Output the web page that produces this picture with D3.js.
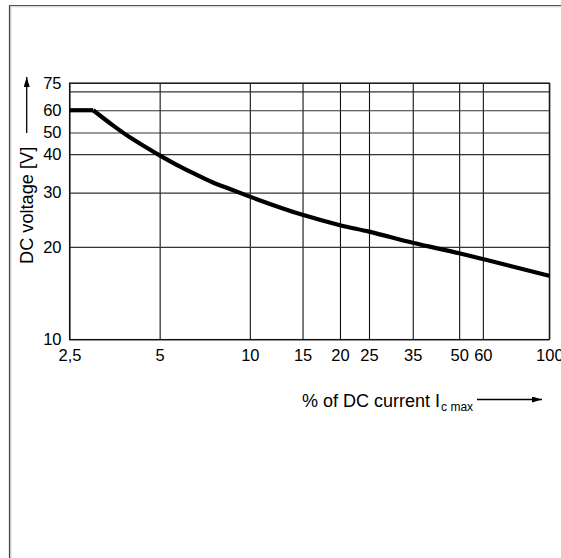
<!DOCTYPE html>
<html>
<head>
<meta charset="utf-8">
<script src="https://cdn.jsdelivr.net/npm/d3@7"></script>
<style>
  html, body { margin: 0; background: #fff; overflow: hidden; }
  svg { display: block; }
  text { font-family: Arial, "Liberation Sans", Helvetica, sans-serif; fill: #000; }
</style>
</head>
<body>
<svg id="chart"></svg>
<script>
const width = 561, height = 558;
const margin = { top: 83, left: 69.5 };
const plotW = 479.8, plotH = 256.5;

// x axis: % of DC current, log scale
const xTicks = [2.5, 5, 10, 15, 20, 25, 35, 50, 60, 100];
const xTickLabels = ['2,5', '5', '10', '15', '20', '25', '35', '50', '60', '100'];

// y axis: DC voltage
const yTicks = [10, 20, 30, 40, 50, 60, 75];
const yGrid = [10, 20, 30, 40, 50, 60, 70, 75];

// curve
const current = [2.5, 3, 3.5, 4, 4.5, 5, 5.7, 6.5, 7.5, 8.5, 10, 15, 20, 25, 35, 50, 60, 100];
const voltage = [60, 60, 52.9, 47.3, 42.9, 39.6, 36.9, 34.6, 32.4, 30.9, 29.1, 25.4, 23.5, 22.4, 20.6, 19.05, 18.25, 16.1];

const svg = d3.select('#chart').attr('width', width).attr('height', height);

// outer frame (only top and left edges are visible in the crop)
svg.append('line').attr('x1', 9.5).attr('x2', 9.5).attr('y1', 5).attr('y2', height)
  .attr('stroke', '#444').attr('stroke-width', 1.2);
svg.append('line').attr('x1', 10.8).attr('x2', 10.8).attr('y1', 6.3).attr('y2', height)
  .attr('stroke', '#bbb').attr('stroke-width', 1);
svg.append('line').attr('x1', 9).attr('x2', width).attr('y1', 5.5).attr('y2', 5.5)
  .attr('stroke', '#555').attr('stroke-width', 1.2);
svg.append('line').attr('x1', 10.3).attr('x2', width).attr('y1', 6.8).attr('y2', 6.8)
  .attr('stroke', '#ccc').attr('stroke-width', 1);

const x = d3.scaleLog().domain([2.5, 100]).range([0, plotW]);
// the source drawing squeezes the top of the voltage axis, so the log scale is piecewise
const y = d3.scaleLog()
  .domain([10, 40, 50, 75])
  .range([plotH, plotH * (1 - 0.723), plotH * (1 - 0.807), 0]);

const g = svg.append('g').attr('transform', `translate(${margin.left},${margin.top})`);

// grid
g.append('g')
  .attr('transform', `translate(0,${plotH})`)
  .call(d3.axisBottom(x).tickValues(xTicks).tickSize(-plotH).tickFormat(''))
  .call(a => a.select('.domain').remove())
  .call(a => a.selectAll('line').attr('stroke', '#111').attr('stroke-width', 1.1));

g.append('g')
  .call(d3.axisLeft(y).tickValues(yGrid).tickSize(-plotW).tickFormat(''))
  .call(a => a.select('.domain').remove())
  .call(a => a.selectAll('line').attr('stroke', '#333').attr('stroke-width', 1.2));

// tick labels
g.append('g')
  .attr('transform', `translate(0,${plotH})`)
  .call(d3.axisBottom(x).tickValues(xTicks).tickSize(0).tickPadding(10)
    .tickFormat((d, i) => xTickLabels[i]))
  .call(a => a.select('.domain').remove())
  .call(a => a.selectAll('text').attr('font-size', 16.5).attr('font-family', null));

g.append('g')
  .call(d3.axisLeft(y).tickValues(yTicks).tickSize(0).tickPadding(8)
    .tickFormat(d3.format('d')))
  .call(a => a.select('.domain').remove())
  .call(a => a.selectAll('text').attr('font-size', 16.5).attr('font-family', null));

// plot frame edges
g.append('rect')
  .attr('width', plotW).attr('height', plotH)
  .attr('fill', 'none').attr('stroke', '#111').attr('stroke-width', 1.1);

// curve: flat limit, then the smooth fall-off (sharp corner between them)
const pts = current.map((c, i) => [c, voltage[i]]);
const line = d3.line().x(d => x(d[0])).y(d => y(d[1]));
g.append('path')
  .datum(pts.slice(0, 2))
  .attr('fill', 'none').attr('stroke', '#000').attr('stroke-width', 4.2)
  .attr('d', line);
g.append('path')
  .datum(pts.slice(1))
  .attr('fill', 'none').attr('stroke', '#000').attr('stroke-width', 4.2)
  .attr('stroke-linejoin', 'round')
  .attr('d', line.curve(d3.curveMonotoneX));

// arrow head marker
svg.append('defs').append('marker')
  .attr('id', 'arr')
  .attr('viewBox', '0 0 10 6')
  .attr('refX', 10).attr('refY', 3)
  .attr('markerWidth', 10).attr('markerHeight', 6)
  .attr('markerUnits', 'userSpaceOnUse')
  .attr('orient', 'auto')
  .append('path').attr('d', 'M0,0 L10,3 L0,6 Z').attr('fill', '#000');

// y title + arrow
svg.append('text')
  .attr('transform', 'translate(33,264) rotate(-90)')
  .attr('font-size', 18.2)
  .text('DC voltage [V]');
svg.append('line')
  .attr('x1', 26.7).attr('x2', 26.7).attr('y1', 133).attr('y2', 77)
  .attr('stroke', '#000').attr('stroke-width', 1.3)
  .attr('marker-end', 'url(#arr)');

// x title + arrow
const xt = svg.append('text')
  .attr('x', 302).attr('y', 407)
  .attr('font-size', 18);
xt.append('tspan').text('% of DC current I');
xt.append('tspan').attr('font-size', 12).attr('dy', 4).attr('dx', 1).text('c max');
svg.append('line')
  .attr('x1', 477).attr('x2', 542).attr('y1', 399.5).attr('y2', 399.5)
  .attr('stroke', '#000').attr('stroke-width', 1.3)
  .attr('marker-end', 'url(#arr)');
</script>
</body>
</html>
